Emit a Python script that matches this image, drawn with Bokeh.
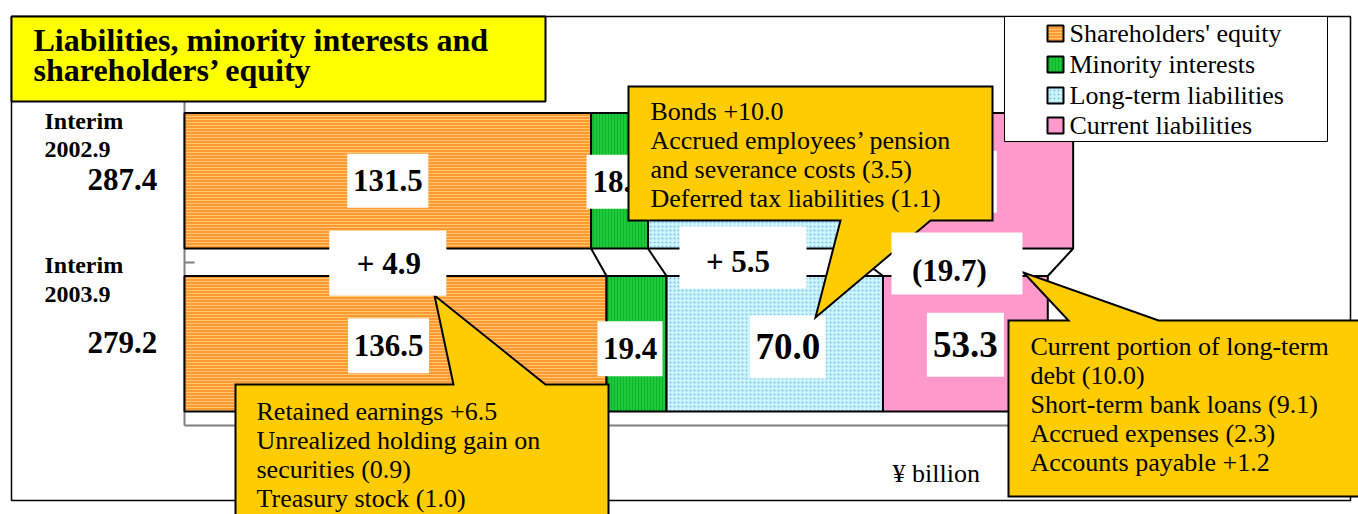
import numpy as np
from bokeh.plotting import figure
from bokeh.models import Range1d
from bokeh.core.properties import value
from bokeh.embed import file_html
from bokeh.resources import INLINE

# ---------------- data ----------------
periods = ["2002.9", "2003.9"]
period_prefix = ["Interim", "Interim"]
totals = [287.4, 279.2]
series_names = ["Shareholders' equity", "Minority interests",
                "Long-term liabilities", "Current liabilities"]
equity = [131.5, 136.5]
minority = [18.4, 19.4]
long_term = [64.5, 70.0]
current = [73.0, 53.3]
change_labels = ["+ 4.9", "", "+ 5.5", "(19.7)"]   # change per series ("" = not shown)
title_lines = ["Liabilities, minority interests and", "shareholders\u2019 equity"]
unit_text = "\u00a5 billion"
note_long_term = ["Bonds +10.0", "Accrued employees\u2019 pension",
                  "and severance costs (3.5)", "Deferred tax liabilities (1.1)"]
note_equity = ["Retained earnings +6.5", "Unrealized holding gain on",
               "securities (0.9)", "Treasury stock (1.0)"]
note_current = ["Current portion of long-term", "debt (10.0)",
                "Short-term bank loans (9.1)", "Accrued expenses (2.3)",
                "Accounts payable +1.2"]

# ---------------- layout / style ----------------
W, H = 1358, 514
PAGE_X0, PAGE_Y0 = 0, 0
AXIS_X = 184          # page x of value 0
UNIT_PX = 3.092       # px per yen billion
ROW_PX = 163.0        # px between the two bars
ROW0_Y = 180.3        # page y of first bar centre
BAR_H = 135.5 / ROW_PX
row_pos = [1.0, 0.0]
FONT = value("Liberation Serif")
CAP = 0.34            # text is placed by the middle of its capitals: baseline - CAP*size

x_range = Range1d((PAGE_X0 - AXIS_X) / UNIT_PX, (PAGE_X0 + W - AXIS_X) / UNIT_PX)
y_range = Range1d(1 - (PAGE_Y0 + H - ROW0_Y) / ROW_PX, 1 + (ROW0_Y - PAGE_Y0) / ROW_PX)

p = figure(width=W, height=H, x_range=x_range, y_range=y_range,
           output_backend="svg", toolbar_location=None, min_border=0,
           x_axis_type=None, y_axis_type=None)
p.outline_line_color = None
p.background_fill_color = "white"
p.border_fill_color = "white"
p.extra_x_ranges = {"px": Range1d(PAGE_X0, PAGE_X0 + W)}
p.extra_y_ranges = {"py": Range1d(PAGE_Y0 + H, PAGE_Y0)}
PX = dict(x_range_name="px", y_range_name="py")


def text_px(xs, baselines, texts, fs, bold=False, align="left"):
    p.text(x=xs, y=[b - CAP * fs for b in baselines], text=texts, text_font=FONT,
           text_font_style="bold" if bold else "normal", text_font_size=f"{fs}px",
           text_baseline="alphabetic", text_align=align, text_color="black", **PX)


# outer frame
p.quad(left=[11], right=[1350], top=[16], bottom=[500], fill_color="white",
       line_color="black", line_width=1.5, **PX)
# plot-area / category axis lines
p.multi_line(xs=[[AXIS_X, AXIS_X], [AXIS_X, 1350], [AXIS_X, AXIS_X + 10]],
             ys=[[101, 425], [425, 425], [262, 262]],
             line_color="#7F7F7F", line_width=2, **PX)

# title box
p.quad(left=[11], right=[545], top=[16], bottom=[101], fill_color="#FFFF00",
       line_color="black", line_width=2, **PX)
text_px([33, 33], [50, 80], title_lines, 32, bold=True)

# bars
series = [equity, minority, long_term, current]
styles = [
    dict(fill_color="#FF9933", hatch_pattern="horizontal_line", hatch_color="#FFC870",
         hatch_scale=3, hatch_weight=1),
    dict(fill_color="#1CCB3A", hatch_pattern="vertical_line", hatch_color="#0E9F28",
         hatch_scale=3, hatch_weight=1, hatch_alpha=0.6),
    dict(fill_color="#CCF6FF", hatch_pattern="dot", hatch_color="#7FC0EE",
         hatch_scale=4, hatch_weight=1),
    dict(fill_color="#FF99CC"),
]
vals = np.array(series)               # shape (4 series, 2 rows)
rights = np.cumsum(vals, axis=0)
lefts = rights - vals
for k in range(len(series)):
    p.hbar(y=row_pos, left=list(lefts[k]), right=list(rights[k]), height=BAR_H,
           line_color="black", line_width=2, **styles[k])

# series lines between the bars
p.segment(x0=list(rights[:, 0]), y0=[row_pos[0] - BAR_H / 2] * 4,
          x1=list(rights[:, 1]), y1=[row_pos[1] + BAR_H / 2] * 4,
          line_color="black", line_width=2)

# category labels and totals (baseline offsets from bar centre, px)
cat_dy = [(-51.3, -23.3, 9.7), (-70.3, -41.3, 9.7)]
for r in range(2):
    a, b, c = cat_dy[r]
    xl = (44 - AXIS_X) / UNIT_PX
    xt = (87 - AXIS_X) / UNIT_PX
    p.text(x=[xl, xl],
           y=[row_pos[r] - (a - CAP * 24) / ROW_PX, row_pos[r] - (b - CAP * 24) / ROW_PX],
           text=[period_prefix[r], periods[r]], text_font=FONT, text_font_style="bold",
           text_font_size="24px", text_baseline="alphabetic", text_align="left")
    p.text(x=[xt], y=[row_pos[r] - (c - CAP * 31) / ROW_PX], text=[f"{totals[r]:.1f}"],
           text_font=FONT, text_font_style="bold", text_font_size="31px",
           text_baseline="alphabetic", text_align="left")

# data labels (dx, dy, box w, box h, font px)
label_style = {
    (0, 0): (0, 0, 81, 54, 31), (0, 1): (0, 1, 66, 54, 31),
    (0, 2): (0, 0, 76, 60, 37), (0, 3): (0, 1, 73, 62, 37),
    (1, 0): (-7, 2, 81, 55, 31), (1, 1): (-6.5, 5, 65, 55, 31),
    (1, 2): (13, 3, 76, 63, 37), (1, 3): (0, 1, 77, 64, 37),
}
for (r, k), (dx, dy, bw, bh, fs) in label_style.items():
    cx = (lefts[k, r] + rights[k, r]) / 2 + dx / UNIT_PX
    cy = row_pos[r] - dy / ROW_PX
    p.rect(x=[cx], y=[cy], width=bw, height=bh, width_units="screen",
           height_units="screen", fill_color="white", line_color=None)
    p.text(x=[cx], y=[cy], text=[f"{vals[k, r]:.1f}"],
           text_font=FONT, text_font_style="bold", text_font_size=f"{fs}px",
           text_baseline="alphabetic", text_align="center")

# legend
p.quad(left=[1004], right=[1327], top=[16], bottom=[141], fill_color="white",
       line_color="black", line_width=1, **PX)
leg_y = [33, 64, 95, 125]
for k in range(4):
    p.quad(left=[1047], right=[1063], top=[leg_y[k] - 8], bottom=[leg_y[k] + 8],
           line_color="black", line_width=2, **styles[k], **PX)
text_px([1069] * 4, [v + 8.5 for v in leg_y], series_names, 26)

# callouts
callouts = [
    ([628, 992, 992, 930, 815, 840, 628], [86, 86, 220, 220, 317, 220, 220]),
    ([235, 453, 434, 545, 608, 608, 235], [384, 384, 295, 384, 384, 530, 530]),
    ([1008, 1068, 1023, 1158, 1380, 1380, 1008], [320, 320, 272, 320, 320, 496, 496]),
]
for xs, ys in callouts:
    p.patch(x=xs, y=ys, fill_color="#FFCC00", line_color="black", line_width=2,
            line_join="miter", **PX)
for lines, x0, y0 in [(note_long_term, 650, 120), (note_equity, 256, 420),
                      (note_current, 1030, 355)]:
    text_px([x0] * len(lines), [y0 + 29 * i for i in range(len(lines))], lines, 26)

# change labels between bars (box dx, dy, w, h, text dx, text centre dy)
change_style = {0: (0, 1, 117, 65, 1, 0.7), 2: (-4.7, -4.8, 127, 62, -9.7, -1.3),
                3: (-3.3, 1.2, 131, 62, -10.8, 7.7)}
mid_y = ((row_pos[0] - BAR_H / 2) + (row_pos[1] + BAR_H / 2)) / 2
for k, txt in enumerate(change_labels):
    if not txt:
        continue
    dx, dy, bw, bh, tdx, tdy = change_style[k]
    c0 = (lefts[k, 0] + rights[k, 0]) / 2
    p.rect(x=[c0 + dx / UNIT_PX], y=[mid_y - dy / ROW_PX], width=bw, height=bh,
           width_units="screen", height_units="screen", fill_color="white", line_color=None)
    p.text(x=[c0 + tdx / UNIT_PX], y=[mid_y - tdy / ROW_PX], text=[txt], text_font=FONT,
           text_font_style="bold", text_font_size="31px", text_baseline="alphabetic",
           text_align="center")

# unit
text_px([892], [482], [unit_text], 26)

with open("out.html", "w", encoding="utf-8") as f:
    f.write(file_html(p, INLINE))
